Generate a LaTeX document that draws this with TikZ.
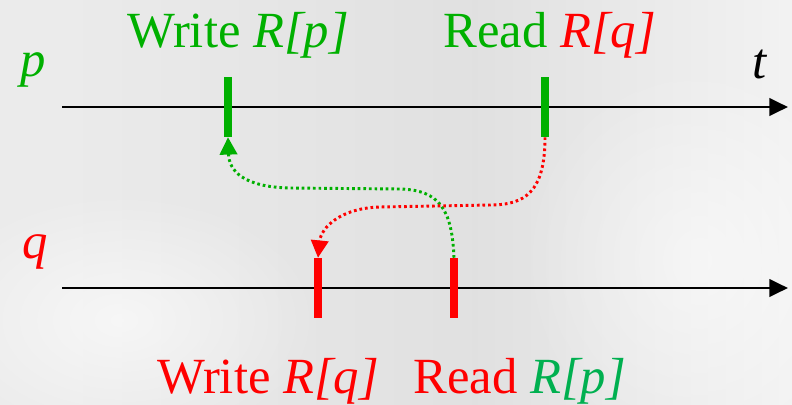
\documentclass[tikz,border=0pt]{standalone}
\usepackage{fontspec}
\setmainfont{LiberationSerif-Regular.ttf}[ItalicFont=LiberationSerif-Italic.ttf,BoldFont=LiberationSerif-Bold.ttf]
\usetikzlibrary{arrows.meta,fadings}
\definecolor{gA}{RGB}{0,176,0}
\definecolor{gB}{RGB}{0,176,80}
\definecolor{rA}{RGB}{255,0,0}
\tikzfading[name=softblob, inner color=transparent!0, outer color=transparent!100]
\pgfdeclarehorizontalshading{bgshade}{100bp}{color(0bp)=(black!7); color(30bp)=(black!8); color(55bp)=(black!12); color(75bp)=(black!5); color(100bp)=(black!2)}
\tikzset{
  axis/.style={line width=2.2pt, black, -{Triangle[length=14pt,width=13pt]}},
  tickmark/.style={draw=none, minimum width=6pt, minimum height=45pt, inner sep=0pt},
  gdot/.style={gA, line width=2.2pt, dash pattern=on 2pt off 2.2pt, -{Triangle[length=13pt,width=13pt]}},
  rdot/.style={rA, line width=2.2pt, dash pattern=on 2pt off 2.2pt, -{Triangle[length=13pt,width=13pt]}},
  lbl/.style={anchor=base west, inner sep=0pt, font=\fontsize{38}{40}\selectfont},
}
\begin{document}
\begin{tikzpicture}[x=0.75pt,y=-0.75pt]
\useasboundingbox (0,0) rectangle (792,404);
\shade[shading=bgshade] (0,0) rectangle (792,404);
\fill[white, path fading=softblob, fill opacity=0.6] (120,320) ellipse (200 and 130);
\fill[white, path fading=softblob, fill opacity=0.5] (700,260) ellipse (180 and 200);
% axes
\coordinate (p0) at (62,107);
\coordinate (p1) at (788,107);
\coordinate (q0) at (62,288);
\coordinate (q1) at (788,288);
\draw[axis] (p0) -- (p1);
\draw[axis] (q0) -- (q1);
% ticks
\node[tickmark, fill=gA] (wp) at (228,107) {};
\node[tickmark, fill=gA] (rq) at (545,107) {};
\node[tickmark, fill=rA] (wq) at (318,288) {};
\node[tickmark, fill=rA] (rp) at (454,288) {};
% curves
\draw[gdot] (rp.north) .. controls (452,210) and (440,190) .. (400,189) -- (290,188) .. controls (242,187) and (229,170) .. (wp.south);
\draw[rdot] (rq.south) .. controls (545,192) and (525,205) .. (490,205) -- (380,207) .. controls (340,208) and (321,228) .. (wq.north);
% labels
\node[lbl, gA] (lp) at (20,76) {\textit{p}};
\node[lbl, rA] (lq) at (22,258) {\textit{q}};
\node[lbl, black] (lt) at (752,78) {\textit{t}};
\node[lbl, gA] (lwp) at (127,47) {Write \textit{R[p]}};
\node[lbl] (lrq) at (443,47) {\color{gA}Read \color{rA}\textit{R[q]}};
\node[lbl, rA] (lwq) at (157,393) {Write \textit{R[q]}};
\node[lbl] (lrp) at (413,393) {\color{rA}Read \color{gB}\textit{R[p]}};
\end{tikzpicture}
\end{document}
